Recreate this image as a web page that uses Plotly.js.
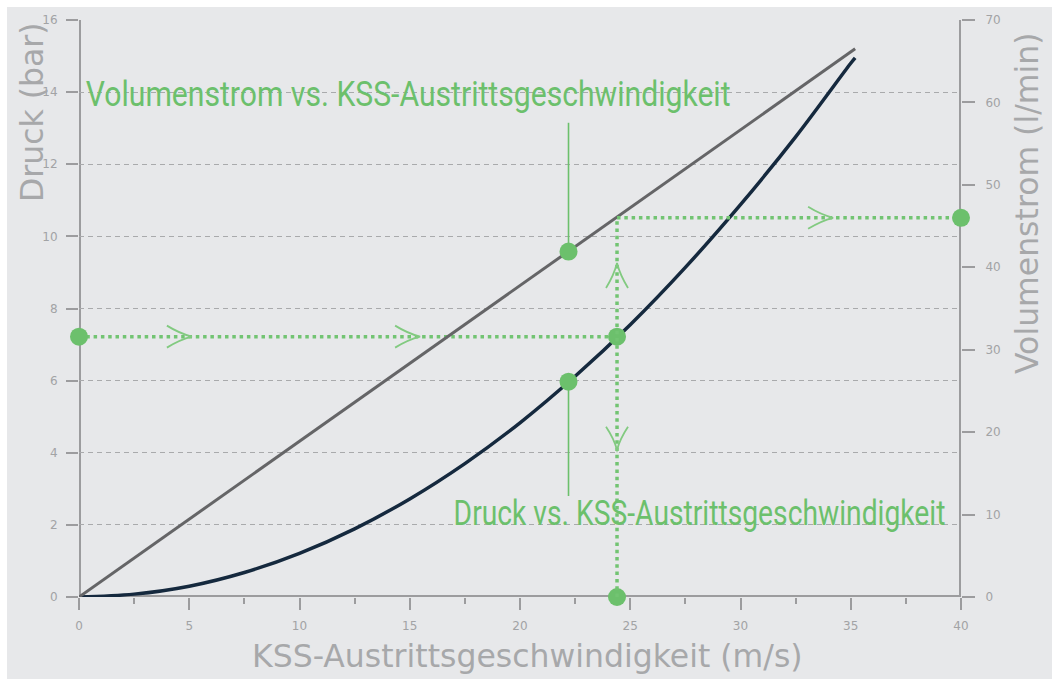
<!DOCTYPE html>
<html>
<head>
<meta charset="utf-8">
<script src="https://cdn.plot.ly/plotly-3.0.1.min.js"></script>
<style>
  html, body { margin: 0; padding: 0; background: #ffffff; width: 1052px; height: 679px; overflow: hidden; }
  #chart { position: absolute; left: 7px; top: 7px; width: 1045px; height: 672px; }
</style>
</head>
<body>
<div id="chart"></div>
<script>
// ---- data ----
const speed = [0, 2.5, 5, 7.5, 10, 12.5, 15, 17.5, 20, 22.5, 25, 27.5, 30, 32.5, 35, 35.2];
const druck = [0, 0.08, 0.3, 0.68, 1.21, 1.89, 2.72, 3.7, 4.83, 6.12, 7.55, 9.14, 10.88, 12.76, 14.8, 14.95];
const lineSpeed = [0, 35.2];
const volumenstrom = [0, 66.5];

// highlighted operating point
const opSpeed = 24.4;
const opDruck = 7.22;
const opVolumen = 46;
// labelled points
const labelSpeed = 22.2;
const labelVolumen = 41.9;
const labelDruck = 5.97;
const stemTopDruck = 13.15;
const stemBottomDruck = 2.8;

// arrows (tip positions)
const arrowRight = [{x: 5.12, y: opDruck, ref: 'y'}, {x: 15.47, y: opDruck, ref: 'y'}, {x: 34.2, y: opVolumen, ref: 'y2'}];
const arrowUp = [{x: opSpeed, y: 9.26}];
const arrowDown = [{x: opSpeed, y: 4.08}];

const xTicks = [0, 5, 10, 15, 20, 25, 30, 35, 40];
const yTicks = [0, 2, 4, 6, 8, 10, 12, 14, 16];
const y2Ticks = [0, 10, 20, 30, 40, 50, 60, 70];

const texts = {
  xTitle: 'KSS-Austrittsgeschwindigkeit (m/s)',
  yTitle: 'Druck (bar)',
  y2Title: 'Volumenstrom (l/min)',
  label1: 'Volumenstrom vs. KSS-Austrittsgeschwindigkeit',
  label2: 'Druck vs. KSS-Austrittsgeschwindigkeit'
};

// ---- styles ----
const bg = '#e7e8ea';
const axisCol = '#9c9c9e';
const tickFontCol = '#a2a3a5';
const titleCol = '#a7a8aa';
const green = '#6cc06c';
const dotGreen = '#72c472';
const grayLine = '#656567';
const navy = '#15293e';
const font = 'DejaVu Sans, sans-serif';
const narrow = 'Roboto, sans-serif';

const traces = [
  { x: lineSpeed, y: volumenstrom, yaxis: 'y2', mode: 'lines', line: {color: grayLine, width: 3}, hoverinfo: 'skip' },
  { x: speed, y: druck, mode: 'lines', line: {color: navy, width: 3.5, shape: 'spline'}, hoverinfo: 'skip' },
  // dotted guide lines
  { x: [0, opSpeed], y: [opDruck, opDruck], mode: 'lines', line: {color: dotGreen, width: 3.5, dash: '3.5px,3.8px'}, cliponaxis: false, hoverinfo: 'skip' },
  { x: [opSpeed, opSpeed], y: [0, opVolumen], yaxis: 'y2', mode: 'lines', line: {color: dotGreen, width: 3.5, dash: '3.5px,3.8px'}, cliponaxis: false, hoverinfo: 'skip' },
  { x: [opSpeed, 40], y: [opVolumen, opVolumen], yaxis: 'y2', mode: 'lines', line: {color: dotGreen, width: 3.5, dash: '3.5px,3.8px'}, cliponaxis: false, hoverinfo: 'skip' },
  // label stems
  { x: [labelSpeed, labelSpeed], y: [stemTopDruck, labelVolumen * 16 / 70], mode: 'lines', line: {color: green, width: 1.6}, hoverinfo: 'skip' },
  { x: [labelSpeed, labelSpeed], y: [labelDruck, stemBottomDruck], mode: 'lines', line: {color: green, width: 1.6}, hoverinfo: 'skip' },
  // dots
  { x: [0, opSpeed, labelSpeed, opSpeed], y: [opDruck, opDruck, labelDruck, 0], mode: 'markers', marker: {color: green, size: 18}, cliponaxis: false, hoverinfo: 'skip' },
  { x: [labelSpeed, 40], y: [labelVolumen, opVolumen], yaxis: 'y2', mode: 'markers', marker: {color: green, size: 18}, cliponaxis: false, hoverinfo: 'skip' }
];

const shapes = [];
function line(s) { shapes.push(Object.assign({type: 'line', layer: 'below', line: {color: axisCol, width: 4}}, s)); }
// bottom axis line + extensions
line({xref: 'x', yref: 'y', x0: 0, x1: 40, y0: 0, y1: 0});
line({xref: 'x', yref: 'y', xsizemode: 'pixel', xanchor: 0, x0: -14, x1: 0, y0: 0, y1: 0});
line({xref: 'x', yref: 'y', xsizemode: 'pixel', xanchor: 40, x0: 0, x1: 14, y0: 0, y1: 0});
// left axis
line({xref: 'x', yref: 'y', x0: 0, x1: 0, y0: 0, y1: 16});
line({xref: 'x', yref: 'y', ysizemode: 'pixel', yanchor: 0, x0: 0, x1: 0, y0: 0, y1: -13});
line({xref: 'x', yref: 'y', xsizemode: 'pixel', xanchor: 0, x0: -13, x1: 2, y0: 16, y1: 16});
// right axis
line({xref: 'x', yref: 'y2', x0: 40, x1: 40, y0: 0, y1: 70});
line({xref: 'x', yref: 'y2', ysizemode: 'pixel', yanchor: 0, x0: 40, x1: 40, y0: 0, y1: -13});
line({xref: 'x', yref: 'y2', xsizemode: 'pixel', xanchor: 40, x0: -2, x1: 13, y0: 70, y1: 70});

// chevrons
const chevCol = '#82ca80';
arrowRight.forEach(a => shapes.push({type: 'path', xref: 'x', yref: a.ref, xsizemode: 'pixel', ysizemode: 'pixel', xanchor: a.x, yanchor: a.y,
  path: 'M-25,11 Q-12,3 0,0 Q-12,-3 -25,-11', line: {color: chevCol, width: 1.8}, layer: 'above'}));
arrowUp.forEach(a => shapes.push({type: 'path', xref: 'x', yref: 'y', xsizemode: 'pixel', ysizemode: 'pixel', xanchor: a.x, yanchor: a.y,
  path: 'M-11,-25 Q-3,-12 0,0 Q3,-12 11,-25', line: {color: chevCol, width: 1.8}, layer: 'above'}));
arrowDown.forEach(a => shapes.push({type: 'path', xref: 'x', yref: 'y', xsizemode: 'pixel', ysizemode: 'pixel', xanchor: a.x, yanchor: a.y,
  path: 'M-11,23 Q-3,11 0,0 Q3,11 11,23', line: {color: chevCol, width: 1.8}, layer: 'above'}));

const plotW = 882, plotH = 577, plotL = 79, plotB = 597;
const px = v => (v - plotL) / plotW;
const py = v => (plotB - v) / plotH;

// label widths measured on the reference (used to condense the text)
const label1Left = 85, label1Width = 645;
const label2Left = 453, label2Width = 492;

const annotations = [
  {xref: 'paper', yref: 'paper', x: px(32), y: py(112), text: texts.yTitle, textangle: -90, showarrow: false, xanchor: 'center', yanchor: 'middle', font: {family: font, size: 31.5, color: titleCol}},
  {xref: 'paper', yref: 'paper', x: px(1027), y: py(204), text: texts.y2Title, textangle: -90, showarrow: false, xanchor: 'center', yanchor: 'middle', font: {family: font, size: 31.5, color: titleCol}},
  {xref: 'paper', yref: 'paper', x: px(527), y: py(656), text: texts.xTitle, showarrow: false, xanchor: 'center', yanchor: 'middle', font: {family: font, size: 31.5, color: titleCol}},
  {xref: 'paper', yref: 'paper', x: px(label1Left + label1Width / 2), y: py(94), text: texts.label1, showarrow: false, xanchor: 'center', yanchor: 'middle', borderpad: 0, font: {family: narrow, size: 36, color: green}},
  {xref: 'paper', yref: 'paper', x: px(label2Left + label2Width / 2), y: py(513), text: texts.label2, showarrow: false, xanchor: 'center', yanchor: 'middle', borderpad: 0, font: {family: narrow, size: 36, color: green}}
];

const layout = {
  width: 1045, height: 672,
  margin: {l: 72, r: 91, t: 13, b: 82},
  paper_bgcolor: bg, plot_bgcolor: bg,
  showlegend: false,
  xaxis: {range: [0, 40], autorange: false, tickvals: xTicks, ticktext: xTicks.map(String), ticks: 'outside', ticklen: 12, tickwidth: 2, tickcolor: axisCol,
    minor: {dtick: 2.5, tick0: 0, ticks: 'outside', ticklen: 6, tickwidth: 2, tickcolor: axisCol, showgrid: false},
    showgrid: false, zeroline: false, showline: false, ticklabelstandoff: 6, tickfont: {family: font, size: 12, color: tickFontCol}},
  yaxis: {range: [0, 16], autorange: false, tickvals: yTicks, ticktext: yTicks.map(String), ticks: 'outside', ticklen: 12, tickwidth: 2, tickcolor: axisCol,
    showgrid: true, gridcolor: '#a9aaac', gridwidth: 1, griddash: '5px,4px', zeroline: false, showline: false, ticklabelstandoff: 6,
    tickfont: {family: font, size: 12, color: tickFontCol}},
  yaxis2: {range: [0, 70], autorange: false, overlaying: 'y', side: 'right', tickvals: y2Ticks, ticktext: y2Ticks.map(String), ticks: 'outside', ticklen: 13, tickwidth: 2, tickcolor: axisCol,
    showgrid: false, zeroline: false, showline: false, ticklabelstandoff: 8, tickfont: {family: font, size: 12, color: tickFontCol}},
  shapes: shapes,
  annotations: annotations
};

Plotly.newPlot('chart', traces, layout, {displayModeBar: false, staticPlot: true}).then(() => {
  // condense the green labels horizontally to the reference's narrow typeface width
  const widths = {};
  widths[texts.label1] = label1Width;
  widths[texts.label2] = label2Width;
  document.querySelectorAll('#chart .annotation-text').forEach(t => {
    const w = widths[t.textContent];
    if (w) {
      const b = t.getBBox();
      const cx = b.x + b.width / 2;
      const sx = w / b.width;
      const prev = t.getAttribute('transform') || '';
      t.setAttribute('transform', prev + ' translate(' + cx + ' 0) scale(' + sx + ' 1) translate(' + (-cx) + ' 0)');
      const rect = t.parentNode.querySelector('rect.bg');
      if (rect) {
        const rb = rect.getBBox();
        const rcx = rb.x + rb.width / 2;
        rect.setAttribute('x', rcx - w / 2);
        rect.setAttribute('width', w);
      }
    }
  });
});
</script>
</body>
</html>
